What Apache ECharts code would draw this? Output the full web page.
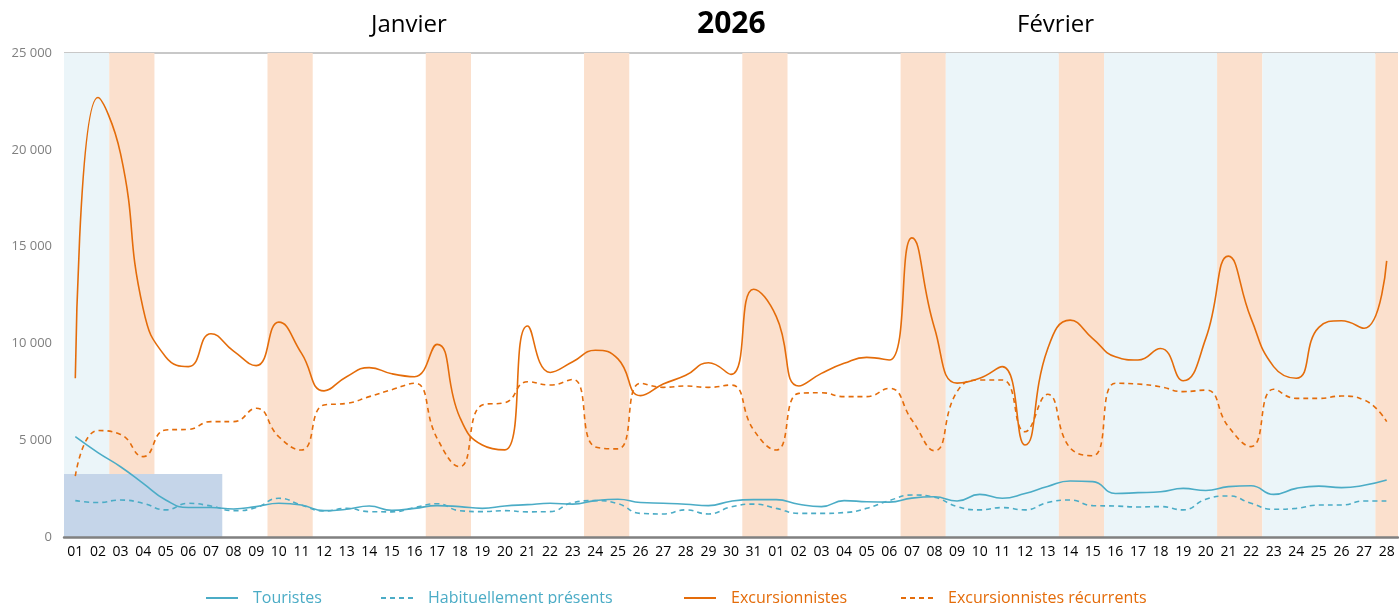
<!DOCTYPE html>
<html>
<head>
<meta charset="utf-8">
<script src="https://cdn.jsdelivr.net/npm/echarts@6/dist/echarts.min.js"></script>
<style>
html,body{margin:0;padding:0;background:#fff;}
#chart{width:1399px;height:604px;}
</style>
</head>
<body>
<div id="chart"></div>
<script>
// Category tick labels (Jan 01..31, Feb 01..28, 2026)
var days = ['01','02','03','04','05','06','07','08','09','10','11','12','13','14','15','16','17','18','19','20','21','22','23','24','25','26','27','28','29','30','31',
            '01','02','03','04','05','06','07','08','09','10','11','12','13','14','15','16','17','18','19','20','21','22','23','24','25','26','27','28'];
// Day type: H = school holiday, W = weekend, '' = normal day
var dayType = ['H','H','W','W','','','','','','W','W','','','','','','W','W','','','','','','W','W','','','','','','W',
               'W','','','','','','W','W','H','H','H','H','H','W','W','H','H','H','H','H','W','W','H','H','H','H','H','W'];
// Shaded block: number of days covered and its height
var blockDays = 7;
var blockHeight = 3250;

var touristes = [5180,4360,3630,2770,1910,1520,1520,1450,1570,1740,1650,1360,1430,1600,1380,1480,1620,1570,1480,1600,1670,1740,1700,1880,1950,1780,1740,1690,1620,1850,1930,
                 1930,1690,1570,1880,1820,1800,2010,2080,1860,2200,2000,2250,2610,2890,2860,2250,2290,2340,2510,2400,2600,2650,2200,2510,2630,2550,2670,2940];
var habituels = [1880,1780,1910,1740,1400,1740,1600,1360,1520,2000,1650,1340,1480,1310,1300,1520,1720,1360,1310,1360,1300,1310,1780,1880,1720,1220,1190,1400,1190,1550,1700,
                 1480,1220,1220,1260,1480,1880,2170,2050,1570,1400,1520,1400,1780,1910,1620,1600,1550,1570,1400,1950,2120,1740,1430,1480,1650,1650,1860,1860];
var excursionnistes = [8200,22700,19800,11800,9300,8800,10500,9600,8850,11100,9500,7550,8280,8750,8430,8280,9950,6200,4750,4500,10900,8500,9050,9650,9200,7300,7900,8350,9000,8400,12800,
                       11400,7800,8450,8970,9280,9140,15450,10800,7950,8200,8800,4750,9700,11200,10250,9310,9140,9740,8070,10260,14510,11290,8800,8200,10830,11170,10780,14260];
var recurrents = [3150,5500,5300,4150,5530,5560,5960,5960,6650,5180,4490,6820,6900,7250,7610,7940,5100,3630,6820,6940,8020,7850,8140,4650,4550,7940,7730,7800,7730,7850,5530,
                  4490,7420,7450,7250,7250,7680,6040,4460,7510,8110,8110,5440,7370,4600,4200,7940,7900,7760,7510,7590,5700,4670,7630,7160,7160,7280,7080,5960];

var seriesNames = ['Touristes','Habituellement présents','Excursionnistes','Excursionnistes récurrents'];
var yTicks = [0,5000,10000,15000,20000,25000];

var ORANGE = '#E46C0A', BLUE = '#4BACC6';
var PEACH = '#FBE0CD', LIGHTBLUE = '#EBF5F9', BLOCK = '#C5D5E9';
var FONT = '"Open Sans", "Noto Sans", sans-serif';

// Build contiguous runs of same day type as shaded areas (positions via a hidden value axis 0..N)
var bandAreas = [];
(function(){
  var i = 0;
  while (i < dayType.length) {
    var t = dayType[i], j = i;
    while (j + 1 < dayType.length && dayType[j + 1] === t) j++;
    if (t) bandAreas.push([{xAxis: i, itemStyle: {color: t === 'W' ? PEACH : LIGHTBLUE}}, {xAxis: j + 1}]);
    i = j + 1;
  }
})();

function fmt(v){ return String(v).replace(/\B(?=(\d{3})+(?!\d))/g, ' '); }

function lineSeries(name, data, color, dashed){
  return {
    name: name, type: 'line', data: data, smooth: 0.5, symbol: 'none', showSymbol: false, z: 5,
    lineStyle: {color: color, width: 1.6, type: dashed ? [5,4] : 'solid'},
    itemStyle: {color: color}
  };
}
function legendFor(name, color, left){
  return {
    data: [name], left: left, top: 590, padding: 0, itemWidth: 32, itemHeight: 14,
    itemStyle: {opacity: 0, color: 'transparent', borderColor: 'transparent', borderWidth: 0},
    textStyle: {color: color, fontSize: 16, fontFamily: FONT, padding: [0,0,0,10]},
    selectedMode: false
  };
}

var chart = echarts.init(document.getElementById('chart'), null, {renderer:'canvas'});
chart.setOption({
  animation: false,
  backgroundColor: '#fff',
  grid: {left: 64, right: 1, top: 53, bottom: 67},
  legend: [
    legendFor(seriesNames[0], BLUE, 205),
    legendFor(seriesNames[1], BLUE, 380),
    legendFor(seriesNames[2], ORANGE, 683),
    legendFor(seriesNames[3], ORANGE, 900)
  ],
  graphic: [
    {type:'text', left: 371, top: 13, style:{text:'Janvier', font:'24px ' + FONT, fill:'#000'}},
    {type:'text', left: 697, top: 9, style:{text:'2026', font:'bold 30px ' + FONT, fill:'#000'}},
    {type:'text', left: 1017, top: 13, style:{text:'Février', font:'24px ' + FONT, fill:'#000'}}
  ],
  xAxis: [{
    type: 'category', data: days, boundaryGap: true, z: 10,
    axisLine: {show: true, lineStyle: {color: '#808080', width: 2.5}},
    axisTick: {show: false},
    axisLabel: {interval: 0, color: '#000', fontSize: 14, fontFamily: FONT, margin: 8},
    splitLine: {show: false}
  }, {
    type: 'value', min: 0, max: days.length, show: false
  }],
  yAxis: {
    type: 'value', min: yTicks[0], max: yTicks[yTicks.length-1], interval: 5000,
    axisLine: {show: false}, axisTick: {show: false},
    axisLabel: {color: '#7F7F7F', fontSize: 13, fontFamily: FONT, margin: 12, formatter: fmt},
    splitLine: {show: true, lineStyle: {color: ['transparent','transparent','transparent','transparent','transparent','#C8C8C8'], width: 2}}
  },
  series: [
    {type:'line', xAxisIndex: 1, data: [[0, 0]], symbol: 'none', silent: true, z: 1,
     lineStyle: {opacity: 0},
     markArea: {silent: true, data: bandAreas.concat([
       [{xAxis: 0, yAxis: 0, itemStyle: {color: BLOCK}}, {xAxis: blockDays, yAxis: blockHeight}]
     ])}},
    lineSeries(seriesNames[0], touristes, BLUE, false),
    lineSeries(seriesNames[1], habituels, BLUE, true),
    lineSeries(seriesNames[2], excursionnistes, ORANGE, false),
    lineSeries(seriesNames[3], recurrents, ORANGE, true)
  ]
});
</script>
</body>
</html>
